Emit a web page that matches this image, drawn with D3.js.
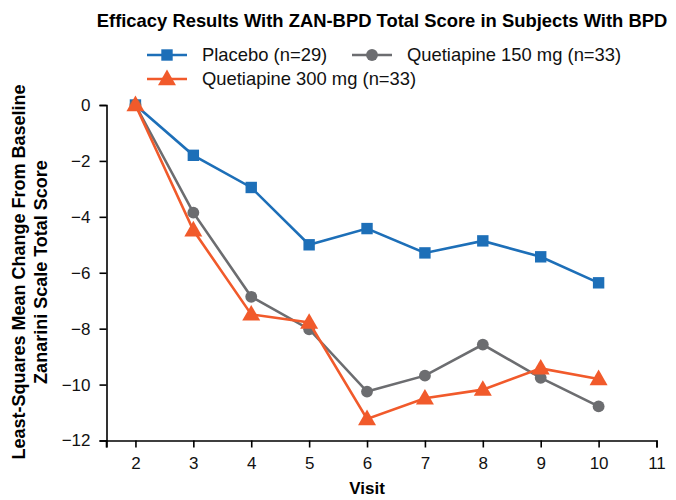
<!DOCTYPE html>
<html>
<head>
<meta charset="utf-8">
<script src="https://cdn.jsdelivr.net/npm/d3@7"></script>
<style>
  body { margin: 0; background: #fff; }
  text { font-family: "Liberation Sans", Arial, sans-serif; }
</style>
</head>
<body>
<svg id="chart" width="676" height="500"></svg>
<script>
// visits on the x axis
var visits = [2, 3, 4, 5, 6, 7, 8, 9, 10];
// least-squares mean change from baseline
var placebo = [0, -1.8, -2.95, -5.0, -4.42, -5.29, -4.86, -5.43, -6.36];
var q150 = [0, -3.85, -6.86, -8.02, -10.25, -9.68, -8.57, -9.76, -10.78];
var q300 = [0, -4.48, -7.49, -7.78, -11.23, -10.49, -10.18, -9.42, -9.8];
var seriesNames = ["Placebo (n=29)", "Quetiapine 150 mg (n=33)", "Quetiapine 300 mg (n=33)"];
var xTicks = [2, 3, 4, 5, 6, 7, 8, 9, 10, 11];
var yTicks = [0, -2, -4, -6, -8, -10, -12];

var Blue = "#1d6fb8", Gray = "#6c6d70", Orange = "#f15a2b";

var svg = d3.select("#chart");

var x = d3.scaleLinear().domain([1.5, 11]).range([106.5, 656.5]);
var y = d3.scaleLinear().domain([-12, 0]).range([440.5, 105]);

// axes
var xAxis = d3.axisBottom(x).tickValues(xTicks).tickSize(7).tickPadding(9).tickFormat(d3.format("d"));
var gx = svg.append("g").attr("transform", "translate(0," + y(-12) + ")").call(xAxis);
gx.select(".domain").attr("stroke", "#000").attr("stroke-width", 1.6);
gx.selectAll(".tick line").attr("stroke-width", 1.6);
gx.selectAll("text").style("font-size", "17px").attr("fill", "#111");
// small tick at the start of the x axis
gx.append("line").attr("x1", x(1.5)).attr("x2", x(1.5)).attr("y1", 0).attr("y2", 7)
  .attr("stroke", "#000").attr("stroke-width", 1.6);

var yAxis = d3.axisLeft(y).tickValues(yTicks).tickSize(7).tickPadding(9)
  .tickFormat(function(d){ return d < 0 ? "\u2212" + Math.abs(d) : d; });
var gy = svg.append("g").attr("transform", "translate(" + x(1.5) + ",0)").call(yAxis);
gy.select(".domain").attr("stroke", "#000").attr("stroke-width", 1.6);
gy.selectAll(".tick line").attr("stroke-width", 1.6);
gy.selectAll("text").style("font-size", "17px").attr("fill", "#111");

// titles
svg.append("text")
  .attr("x", 382).attr("y", 27)
  .attr("text-anchor", "middle")
  .style("font-weight", "bold").style("font-size", "18.4px")
  .text("Efficacy Results With ZAN-BPD Total Score in Subjects With BPD");

svg.append("text")
  .attr("x", 367).attr("y", 494)
  .attr("text-anchor", "middle")
  .style("font-weight", "bold").style("font-size", "17px")
  .text("Visit");

var ylab = svg.append("text")
  .attr("transform", "translate(0,272) rotate(-90)")
  .attr("text-anchor", "middle")
  .style("font-weight", "bold").style("font-size", "18px");
ylab.append("tspan").attr("x", 0).attr("y", 25).text("Least-Squares Mean Change From Baseline");
ylab.append("tspan").attr("x", 0).attr("y", 47).text("Zanarini Scale Total Score");

// series lines and markers
var series = [
  {name: seriesNames[0], values: placebo, color: Blue, shape: "square"},
  {name: seriesNames[1], values: q150, color: Gray, shape: "circle"},
  {name: seriesNames[2], values: q300, color: Orange, shape: "triangle"}
];

var symbolFor = {
  square: d3.symbol().type(d3.symbolSquare).size(130),
  circle: d3.symbol().type(d3.symbolCircle).size(110),
  triangle: d3.symbol().type(d3.symbolTriangle).size(140)
};

var line = d3.line()
  .x(function(d, i){ return x(visits[i]); })
  .y(function(d){ return y(d); });

series.forEach(function(s){
  svg.append("path")
    .attr("d", line(s.values))
    .attr("fill", "none")
    .attr("stroke", s.color)
    .attr("stroke-width", 2.6);
  svg.selectAll(null)
    .data(s.values)
    .enter()
    .append("path")
    .attr("d", symbolFor[s.shape])
    .attr("transform", function(d, i){
      var dy = s.shape == "triangle" ? 1 : 0;
      return "translate(" + x(visits[i]) + "," + (y(d) + dy) + ")";
    })
    .attr("fill", s.color);
});

// legend
var legendItems = [
  {s: series[0], lx: 147, ly: 55},
  {s: series[1], lx: 352, ly: 55},
  {s: series[2], lx: 147, ly: 79}
];
legendItems.forEach(function(it){
  var g = svg.append("g");
  g.append("line")
    .attr("x1", it.lx).attr("x2", it.lx + 40)
    .attr("y1", it.ly).attr("y2", it.ly)
    .attr("stroke", it.s.color).attr("stroke-width", 2.6);
  g.append("path")
    .attr("d", symbolFor[it.s.shape])
    .attr("transform", "translate(" + (it.lx + 20) + "," + (it.ly + (it.s.shape == "triangle" ? 1 : 0)) + ")")
    .attr("fill", it.s.color);
  g.append("text")
    .attr("x", it.lx + 55).attr("y", it.ly + 6)
    .style("font-size", "18.4px")
    .attr("fill", "#111")
    .text(it.s.name);
});
</script>
</body>
</html>
